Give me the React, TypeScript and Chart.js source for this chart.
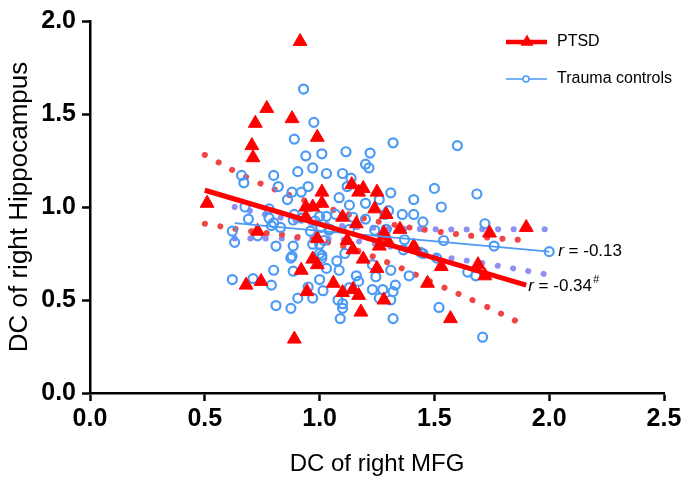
import React, { useEffect, useRef } from "react";
import { Chart, registerables } from "chart.js";

Chart.register(...registerables);

// ---- Data ----
const xTickValues = [0, 0.5, 1.0, 1.5, 2.0, 2.5];
const yTickValues = [0, 0.5, 1.0, 1.5, 2.0];

const ptsdX = [0.915, 0.77, 0.72, 0.88, 0.99, 0.705, 0.71, 0.51, 0.73, 1.01, 0.94, 0.97, 1.01, 0.94, 1.10, 0.99, 0.97, 0.68, 0.745, 0.92, 0.99, 0.945, 1.06, 1.10, 0.89, 1.14, 1.19, 1.17, 1.25, 1.24, 1.16, 1.29, 1.12, 1.28, 1.145, 1.17, 1.19, 1.25, 1.28, 1.18, 1.35, 1.28, 1.30, 1.26, 1.41, 1.74, 1.53, 1.69, 1.72, 1.47, 1.145, 1.57, 1.90];
const ptsdY = [1.89, 1.53, 1.45, 1.475, 1.375, 1.33, 1.265, 1.02, 0.87, 1.08, 1.0, 1.0, 1.02, 0.945, 0.945, 0.83, 0.72, 0.58, 0.60, 0.66, 0.69, 0.545, 0.59, 0.54, 0.29, 1.12, 1.10, 1.08, 1.08, 0.99, 0.91, 0.96, 0.82, 0.86, 0.556, 0.525, 0.72, 0.67, 0.50, 0.435, 0.88, 0.845, 0.81, 0.79, 0.79, 0.86, 0.68, 0.69, 0.63, 0.59, 0.77, 0.40, 0.89];

const tcX = [0.93, 0.975, 0.89, 0.94, 1.01, 1.115, 0.97, 0.905, 1.03, 1.10, 0.66, 0.67, 0.80, 0.82, 0.95, 0.88, 0.92, 0.86, 1.085, 1.12, 0.675, 0.78, 0.69, 0.79, 0.83, 0.62, 0.63, 0.73, 0.81, 0.885, 1.0, 1.045, 1.0, 1.03, 1.11, 1.01,
  0.62, 0.71, 0.80, 0.79, 0.875, 0.885, 1.0, 0.95, 1.015, 0.905, 0.97, 0.81, 0.875, 1.08, 1.10, 1.10, 1.09, 1.085, 1.03, 1.075,
  1.22, 1.20, 1.215, 1.13, 1.20, 1.07, 1.145, 1.20, 1.285, 0.89, 0.92, 0.98, 0.885, 0.78, 0.80, 1.13, 1.005, 1.04, 1.24, 1.29, 0.96,
  0.88, 0.97, 1.0, 1.01, 1.02, 1.16, 1.17, 1.23, 1.245, 1.275, 1.13, 1.26,
  1.32, 1.60, 1.137, 1.50, 1.685, 1.31, 1.41, 1.53, 1.26, 1.30, 1.36, 1.41, 1.45, 1.72,
  1.54, 1.76, 1.37, 1.365, 1.44, 1.31, 1.39, 1.645, 1.68, 1.33, 1.32, 1.31,
  1.52, 1.32, 1.71, 1.51, 1.45, 1.23, 2.0];
const tcY = [1.634, 1.455, 1.365, 1.275, 1.286, 1.297, 1.21, 1.19, 1.18, 1.18, 1.17, 1.13, 1.17, 1.11, 1.11, 1.08, 1.08, 1.04, 1.05, 1.11, 1.0, 0.99, 0.935, 0.90, 0.89, 0.87, 0.81, 0.845, 0.79, 0.79, 0.80, 0.88, 0.95, 0.95, 0.75, 0.74,
  0.61, 0.615, 0.66, 0.58, 0.725, 0.655, 0.61, 0.57, 0.55, 0.51, 0.51, 0.47, 0.455, 0.50, 0.48, 0.455, 0.40, 0.66, 0.67, 0.71,
  1.29, 1.23, 1.21, 1.01, 1.02, 0.96, 0.945, 0.935, 0.96, 0.96, 0.94, 0.925, 0.93, 0.94, 0.915, 0.88, 0.89, 0.875, 0.875, 0.88, 0.87,
  0.735, 0.80, 0.75, 0.725, 0.82, 0.63, 0.60, 0.69, 0.625, 0.556, 0.567, 0.51,
  1.345, 1.33, 1.155, 1.10, 1.07, 1.076, 1.04, 1.00, 1.04, 0.98, 0.96, 0.96, 0.92, 0.91,
  0.82, 0.79, 0.824, 0.77, 0.756, 0.66, 0.63, 0.65, 0.63, 0.58, 0.545, 0.50,
  0.46, 0.40, 0.30, 0.725, 0.75, 0.556, 0.76];

// regression lines
const ptsdFitX = [0.5, 1.9];
const ptsdFitY = [1.09, 0.58];
const tcFitX = [0.63, 2.0];
const tcFitY = [0.913, 0.76];

// 95% confidence bands
const ptsdBandX = [0.5, 0.7, 0.9, 1.1, 1.3, 1.5, 1.7, 1.9];
const ptsdUpper = [1.28, 1.15, 1.05, 0.97, 0.91, 0.87, 0.84, 0.82];
const ptsdLower = [0.91, 0.87, 0.84, 0.79, 0.70, 0.59, 0.48, 0.36];
const tcBandX = [0.63, 0.8, 1.0, 1.2, 1.5, 1.75, 2.0];
const tcUpper = [1.0, 0.95, 0.91, 0.89, 0.88, 0.88, 0.88];
const tcLower = [0.83, 0.83, 0.83, 0.81, 0.74, 0.69, 0.635];

const seriesNames = ["PTSD", "Trauma controls"];
const rLabels = ["-0.34", "-0.13"];

const RED = "#FF0000";
const BLUE = "#4C9AF5";
const BAND_RED = "#F04545";
const BAND_PURPLE = "#8F8FF2";
const FONT = "'Liberation Sans', Arial, sans-serif";

const zip = (xs: number[], ys: number[]) => xs.map((x, i) => ({ x, y: ys[i] }));

const overlayPlugin = {
  id: "overlay",
  afterDraw(chart: any) {
    const { ctx, scales } = chart;
    const xs = scales.x;
    const ys = scales.y;
    ctx.save();
    // Legend: PTSD
    ctx.strokeStyle = RED;
    ctx.lineWidth = 4.5;
    ctx.beginPath();
    ctx.moveTo(506, 42);
    ctx.lineTo(547, 42);
    ctx.stroke();
    ctx.fillStyle = RED;
    ctx.beginPath();
    const r = 7.5;
    const cx = 527, cy = 42;
    ctx.moveTo(cx, cy - r);
    ctx.lineTo(cx + r * 0.866, cy + r * 0.5);
    ctx.lineTo(cx - r * 0.866, cy + r * 0.5);
    ctx.closePath();
    ctx.fill();
    ctx.fillStyle = "#000";
    ctx.font = `16px ${FONT}`;
    ctx.textBaseline = "middle";
    ctx.textAlign = "left";
    ctx.fillText(seriesNames[0], 557, 42);
    // Legend: Trauma controls
    ctx.strokeStyle = BLUE;
    ctx.lineWidth = 1.5;
    ctx.beginPath();
    ctx.moveTo(506, 79);
    ctx.lineTo(547, 79);
    ctx.stroke();
    ctx.fillStyle = "#fff";
    ctx.beginPath();
    ctx.arc(526, 79, 3, 0, Math.PI * 2);
    ctx.fill();
    ctx.stroke();
    ctx.fillStyle = "#000";
    ctx.fillText(seriesNames[1], 557, 79);

    // r annotations
    const drawR = (x0: number, y0: number, val: string, sup: string) => {
      ctx.fillStyle = "#000";
      ctx.font = `italic 17px ${FONT}`;
      ctx.textBaseline = "middle";
      ctx.fillText("r", x0, y0);
      let x = x0 + ctx.measureText("r").width;
      ctx.font = `17px ${FONT}`;
      const txt = " = " + val;
      ctx.fillText(txt, x, y0);
      x += ctx.measureText(txt).width;
      if (sup) {
        ctx.font = `italic 11px ${FONT}`;
        ctx.fillText(sup, x + 1, y0 - 6);
      }
    };
    drawR(xs.getPixelForValue(tcFitX[1]) + 9, ys.getPixelForValue(tcFitY[1]), rLabels[1], "");
    drawR(xs.getPixelForValue(ptsdFitX[1]) + 2, ys.getPixelForValue(ptsdFitY[1]) + 1, rLabels[0], "#");
    ctx.restore();
  },
};

export default function App() {
  const ref = useRef<HTMLCanvasElement | null>(null);
  useEffect(() => {
    if (!ref.current) return;
    const bandStyle = (color: string) => ({
      showLine: true,
      borderColor: color,
      borderWidth: 6,
      borderDash: [0.1, 15.5],
      borderCapStyle: "round",
      pointRadius: 0,
      tension: 0.4,
      fill: false,
    });
    const chart = new Chart(ref.current, {
      type: "scatter",
      data: {
        datasets: [
          {
            label: "PTSD fit",
            data: zip(ptsdFitX, ptsdFitY),
            showLine: true,
            borderColor: RED,
            borderWidth: 5,
            pointRadius: 0,
            order: 0,
          } as any,
          {
            label: "TC fit",
            data: zip(tcFitX, tcFitY),
            showLine: true,
            borderColor: BLUE,
            borderWidth: 1.8,
            pointRadius: 0,
            order: 1,
          },
          {
            label: seriesNames[0],
            data: zip(ptsdX, ptsdY),
            pointStyle: "triangle",
            pointRadius: 8,
            backgroundColor: RED,
            borderColor: RED,
            borderWidth: 1,
            order: 2,
          },
          {
            label: seriesNames[1],
            data: zip(tcX, tcY),
            pointStyle: "circle",
            pointRadius: 4.5,
            backgroundColor: "rgba(255,255,255,0)",
            borderColor: BLUE,
            borderWidth: 2.2,
            order: 3,
          },
          { label: "pu", data: zip(ptsdBandX, ptsdUpper), ...bandStyle(BAND_RED), order: 4 } as any,
          { label: "pl", data: zip(ptsdBandX, ptsdLower), ...bandStyle(BAND_RED), order: 4 } as any,
          { label: "tu", data: zip(tcBandX, tcUpper), ...bandStyle(BAND_PURPLE), order: 5 } as any,
          { label: "tl", data: zip(tcBandX, tcLower), ...bandStyle(BAND_PURPLE), order: 5 } as any,
        ],
      },
      options: {
        animation: false,
        responsive: false,
        events: [],
        layout: { padding: { top: 12, right: 21, left: 0, bottom: 0 } },
        plugins: { legend: { display: false }, tooltip: { enabled: false } },
        scales: {
          x: {
            type: "linear",
            min: 0,
            max: 2.5,
            afterFit: (s: any) => { s.height = 91; },
            afterBuildTicks: (s: any) => { s.ticks = xTickValues.map((v) => ({ value: v })); },
            border: { display: true, color: "#000", width: 2.5 },
            grid: { display: true, drawOnChartArea: false, drawTicks: true, tickLength: 8, tickWidth: 2.5, tickColor: "#000" },
            ticks: {
              color: "#000",
              padding: 3,
              maxRotation: 0,
              font: { family: FONT, size: 25, weight: "bold" },
              callback: (v: any) => Number(v).toFixed(1),
            },
            title: {
              display: true,
              text: "DC of right MFG",
              color: "#000",
              font: { family: FONT, size: 24 },
              padding: { top: 4, bottom: 5 },
            },
          },
          y: {
            type: "linear",
            min: 0,
            max: 2,
            afterFit: (s: any) => { s.width = 90; },
            afterBuildTicks: (s: any) => { s.ticks = yTickValues.map((v) => ({ value: v })); },
            border: { display: true, color: "#000", width: 2.5 },
            grid: { display: true, drawOnChartArea: false, drawTicks: true, tickLength: 8, tickWidth: 2.5, tickColor: "#000" },
            ticks: {
              color: "#000",
              padding: 6,
              font: { family: FONT, size: 25, weight: "bold" },
              callback: (v: any) => Number(v).toFixed(1),
            },
            title: {
              display: true,
              text: "DC of right Hippocampus",
              color: "#000",
              font: { family: FONT, size: 26 },
              padding: { top: 4, bottom: 4 },
            },
          },
        },
      } as any,
      plugins: [overlayPlugin],
    });
    return () => chart.destroy();
  }, []);
  return (
    <div style={{ position: "absolute", left: 0, top: 0, width: 685, height: 484, background: "#fff" }}>
      <canvas ref={ref} width={685} height={484} style={{ width: 685, height: 484, display: "block" }} />
    </div>
  );
}
